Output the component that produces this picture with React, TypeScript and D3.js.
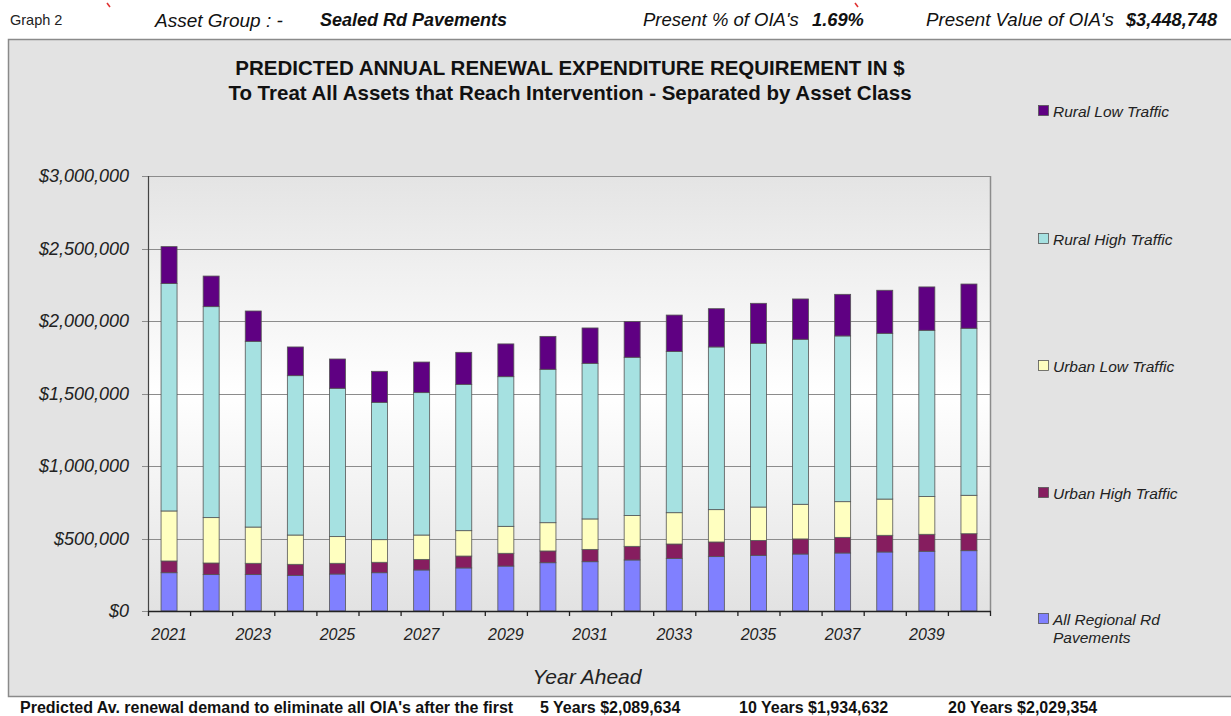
import React from "react";
import * as d3 from "d3";

const years = d3.range(2021, 2041).map(String);
const allRegional = [264, 251, 251, 246, 255, 264, 283, 297, 310, 333, 340, 352, 363, 375, 384, 393, 400, 407, 412, 416];
const urbanHigh = [81, 80, 78, 76, 74, 72, 73, 82, 88, 81, 85, 94, 99, 101, 103, 104, 108, 115, 117, 117];
const urbanLow = [345, 313, 250, 202, 184, 156, 168, 175, 186, 195, 210, 212, 216, 223, 230, 239, 246, 250, 260, 265];
const ruralHigh = [1568, 1455, 1281, 1099, 1023, 947, 982, 1009, 1032, 1058, 1073, 1092, 1111, 1122, 1129, 1138, 1143, 1143, 1147, 1152];
const ruralLow = [255, 211, 209, 198, 202, 214, 211, 221, 226, 227, 244, 246, 252, 264, 276, 278, 287, 297, 299, 305];

const seriesNames = ["All Regional Rd Pavements", "Urban High Traffic", "Urban Low Traffic", "Rural High Traffic", "Rural Low Traffic"];
const seriesColors = ["#8080ff", "#861d5f", "#ffffc0", "#a6e1e1", "#5f0082"];
const yTicks = [0, 500000, 1000000, 1500000, 2000000, 2500000, 3000000];

const W = 1231, H = 716;
const plot = { left: 148, right: 990, top: 176, bottom: 611 };

export default function App() {
  const x = d3.scaleBand().domain(years).range([plot.left, plot.right]).paddingInner(0.62).paddingOuter(0.31);
  const y = d3.scaleLinear().domain([0, 3000000]).range([plot.bottom, plot.top]);
  const table = years.map((yr, i) => ({
    year: yr,
    s0: allRegional[i] * 1000,
    s1: urbanHigh[i] * 1000,
    s2: urbanLow[i] * 1000,
    s3: ruralHigh[i] * 1000,
    s4: ruralLow[i] * 1000,
  }));
  const keys = ["s0", "s1", "s2", "s3", "s4"];
  const stacked = d3.stack<any>().keys(keys)(table);
  const fmt = (v: number) => "$" + d3.format(",")(v);
  const step = (plot.right - plot.left) / years.length;
  const legendY = [620, 494, 367, 240, 112];
  const font = "Arial, 'Liberation Sans', sans-serif";

  return (
    <svg width={W} height={H} style={{ position: "absolute", left: 0, top: 0, background: "#fff" }} fontFamily={font}>
      <defs>
        <linearGradient id="pg" x1="0" y1="0" x2="0" y2="1">
          <stop offset="0" stopColor="#e4e4e4" />
          <stop offset="0.5" stopColor="#ffffff" />
          <stop offset="1" stopColor="#e2e2e2" />
        </linearGradient>
      </defs>
      {/* header */}
      <text x={10} y={25} fontSize={14.5} fill="#222">Graph 2</text>
      <line x1={107} y1={3} x2={110} y2={7} stroke="#e03030" strokeWidth={1.5} />
      <line x1={855} y1={3} x2={858} y2={7} stroke="#e03030" strokeWidth={1.5} />
      <text x={155} y={27} fontSize={19} fontStyle="italic" fill="#111">Asset Group : -</text>
      <text x={320} y={26} fontSize={18} fontStyle="italic" fontWeight="bold" fill="#111">Sealed Rd Pavements</text>
      <text x={643} y={26} fontSize={18.5} fontStyle="italic" fill="#111">Present % of OIA's</text>
      <text x={812} y={26} fontSize={18.3} fontStyle="italic" fontWeight="bold" fill="#111">1.69%</text>
      <text x={926} y={26} fontSize={18.7} fontStyle="italic" fill="#111">Present Value of OIA's</text>
      <text x={1126} y={26} fontSize={18.2} fontStyle="italic" fontWeight="bold" fill="#111">$3,448,748</text>

      {/* panel */}
      <rect x={8.5} y={39.5} width={1230} height={657} fill="#e3e3e3" stroke="#8a8a8a" strokeWidth={1.5} />

      {/* titles */}
      <text x={570} y={75} fontSize={20.5} fontWeight="bold" textAnchor="middle" fill="#111">PREDICTED ANNUAL RENEWAL EXPENDITURE REQUIREMENT IN $</text>
      <text x={570} y={100} fontSize={20.5} fontWeight="bold" textAnchor="middle" fill="#111">To Treat All Assets that Reach Intervention - Separated by Asset Class</text>

      {/* plot */}
      <rect x={plot.left} y={plot.top} width={plot.right - plot.left} height={plot.bottom - plot.top} fill="url(#pg)" />
      {yTicks.map((t) => (
        <g key={t}>
          <line x1={plot.left - 6} x2={plot.right} y1={Math.round(y(t)) + 0.5} y2={Math.round(y(t)) + 0.5} stroke="#8c8c8c" strokeWidth={1.2} />
          <text x={129} y={y(t) + 6} fontSize={18} fontStyle="italic" textAnchor="end" fill="#222">{fmt(t)}</text>
        </g>
      ))}
      <line x1={plot.right + 0.5} x2={plot.right + 0.5} y1={plot.top} y2={plot.bottom} stroke="#8c8c8c" strokeWidth={1.5} />
      <line x1={plot.left + 0.5} x2={plot.left + 0.5} y1={plot.top} y2={plot.bottom} stroke="#444" strokeWidth={1.2} />

      {stacked.map((layer, si) => (
        <g key={si}>
          {layer.map((d, i) => (
            <rect
              key={i}
              x={x(years[i])!}
              y={y(d[1])}
              width={x.bandwidth()}
              height={y(d[0]) - y(d[1])}
              fill={seriesColors[si]}
              stroke="#555"
              strokeWidth={0.8}
            />
          ))}
        </g>
      ))}

      <line x1={plot.left} x2={plot.right + 1} y1={plot.bottom + 0.5} y2={plot.bottom + 0.5} stroke="#222" strokeWidth={1.5} />
      {d3.range(years.length + 1).map((i) => (
        <line key={i} x1={plot.left + i * step + 0.5} x2={plot.left + i * step + 0.5} y1={plot.bottom} y2={plot.bottom + 5} stroke="#222" strokeWidth={1.3} />
      ))}
      {years.map((yr, i) =>
        i % 2 === 0 ? (
          <text key={yr} x={x(yr)! + x.bandwidth() / 2} y={640} fontSize={16} fontStyle="italic" textAnchor="middle" fill="#222">{yr}</text>
        ) : null
      )}
      <text x={587} y={684} fontSize={21} fontStyle="italic" textAnchor="middle" fill="#222">Year Ahead</text>

      {/* legend */}
      {seriesNames.map((n, si) => (
        <g key={n}>
          <rect x={1038.5} y={legendY[si] - 6.5} width={10} height={10} fill={seriesColors[si]} stroke="#555" strokeWidth={0.8} />
          {si === 0 ? (
            <text x={1053} y={legendY[si] + 5} fontSize={15.5} fontStyle="italic" fill="#222">
              <tspan x={1053}>All Regional Rd</tspan>
              <tspan x={1053} dy={18}>Pavements</tspan>
            </text>
          ) : (
            <text x={1053} y={legendY[si] + 5} fontSize={15.5} fontStyle="italic" fill="#222">{n}</text>
          )}
        </g>
      ))}

      {/* footer */}
      <text x={20} y={713} fontSize={16} fontWeight="bold" fill="#111">Predicted Av. renewal demand to eliminate all OIA's after the first</text>
      <text x={540} y={713} fontSize={16} fontWeight="bold" fill="#111">5 Years  $2,089,634</text>
      <text x={739} y={713} fontSize={16} fontWeight="bold" fill="#111">10 Years  $1,934,632</text>
      <text x={948} y={713} fontSize={16} fontWeight="bold" fill="#111">20 Years  $2,029,354</text>
    </svg>
  );
}
